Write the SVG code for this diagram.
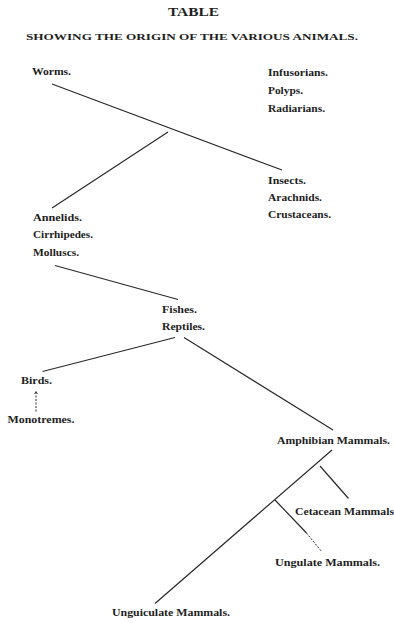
<svg xmlns="http://www.w3.org/2000/svg" width="394" height="623" viewBox="0 0 394 623">
<style>
text{font-family:"Liberation Serif","Times New Roman",serif;font-weight:bold;fill:#1e1e1e;font-size:10.5px}
.title{font-size:13.5px}
.sub{font-size:9px}
line{stroke:#2a2a2a;stroke-width:1.2;fill:none}
.dash{stroke-dasharray:2 1.5;stroke-width:1}
</style>
<rect width="394" height="623" fill="#ffffff"/>
<g id="title">
<text class="title" x="168" y="16" textLength="51" lengthAdjust="spacingAndGlyphs">TABLE</text>
<text class="sub" x="26" y="39.5" textLength="332" lengthAdjust="spacingAndGlyphs">SHOWING THE ORIGIN OF THE VARIOUS ANIMALS.</text>
</g>
<g id="connectors">
<line x1="52" y1="84" x2="282" y2="170"/>
<line x1="168" y1="132" x2="52" y2="208"/>
<line x1="55" y1="265.5" x2="178" y2="299.5"/>
<line x1="175" y1="337.5" x2="42.5" y2="371.5"/>
<line x1="184" y1="337.5" x2="333" y2="430"/>
<line class="dash" x1="36" y1="392" x2="36" y2="412"/>
<line x1="34.5" y1="394" x2="36" y2="391.5" style="stroke-width:0.8"/>
<line x1="37.5" y1="394" x2="36" y2="391.5" style="stroke-width:0.8"/>
<line x1="332" y1="450" x2="155" y2="603.5"/>
<line x1="320" y1="466" x2="348.5" y2="498.5"/>
<line x1="275" y1="500" x2="306.5" y2="533"/>
<line class="dash" x1="306.5" y1="533" x2="322" y2="552"/>
</g>
<g id="worms"><text x="32" y="75" textLength="39" lengthAdjust="spacingAndGlyphs">Worms.</text></g>
<g id="infusorians">
<text x="268" y="76" textLength="60" lengthAdjust="spacingAndGlyphs">Infusorians.</text>
<text x="268" y="94" textLength="35" lengthAdjust="spacingAndGlyphs">Polyps.</text>
<text x="268" y="112" textLength="57" lengthAdjust="spacingAndGlyphs">Radiarians.</text>
</g>
<g id="insects">
<text x="268" y="184" textLength="38" lengthAdjust="spacingAndGlyphs">Insects.</text>
<text x="268" y="201" textLength="54" lengthAdjust="spacingAndGlyphs">Arachnids.</text>
<text x="268" y="218" textLength="63" lengthAdjust="spacingAndGlyphs">Crustaceans.</text>
</g>
<g id="annelids">
<text x="33" y="221" textLength="49" lengthAdjust="spacingAndGlyphs">Annelids.</text>
<text x="33" y="238" textLength="60" lengthAdjust="spacingAndGlyphs">Cirrhipedes.</text>
<text x="33" y="256" textLength="46" lengthAdjust="spacingAndGlyphs">Molluscs.</text>
</g>
<g id="fishes">
<text x="162" y="313" textLength="35" lengthAdjust="spacingAndGlyphs">Fishes.</text>
<text x="162" y="330" textLength="43" lengthAdjust="spacingAndGlyphs">Reptiles.</text>
</g>
<g id="birds"><text x="21" y="384" textLength="31" lengthAdjust="spacingAndGlyphs">Birds.</text></g>
<g id="monotremes"><text x="7.5" y="423" textLength="67" lengthAdjust="spacingAndGlyphs">Monotremes.</text></g>
<g id="amphibian"><text x="277" y="444" textLength="113" lengthAdjust="spacingAndGlyphs">Amphibian Mammals.</text></g>
<g id="cetacean"><text x="295" y="515" textLength="99" lengthAdjust="spacingAndGlyphs">Cetacean Mammals</text></g>
<g id="ungulate"><text x="275" y="566" textLength="105" lengthAdjust="spacingAndGlyphs">Ungulate Mammals.</text></g>
<g id="unguiculate"><text x="112" y="616" textLength="118" lengthAdjust="spacingAndGlyphs">Unguiculate Mammals.</text></g>
</svg>
